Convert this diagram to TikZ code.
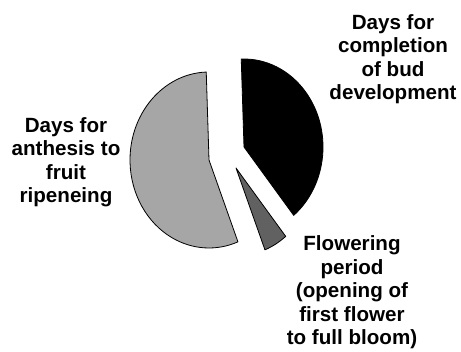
\documentclass[tikz,border=0pt]{standalone}
\usepackage{fontspec}
\setmainfont{Liberation Sans}
\usepackage{xcolor}
\usetikzlibrary{positioning, calc}

\definecolor{ripegray}{gray}{0.65}
\definecolor{flowergray}{gray}{0.38}

\begin{document}
\begin{tikzpicture}[
    x=1pt, y=1pt,
    slice/.style={draw=black, line width=0.8pt, line join=round},
    lbl/.style={align=center, anchor=base, inner sep=0pt,
        font=\fontsize{20.6}{23.6}\selectfont\bfseries}
]
    \useasboundingbox (0,0) rectangle (461,352);

    % Slice apexes
    \coordinate (budc) at (244,205);
    \coordinate (ripec) at (209,192);
    \coordinate (flowc) at (236,184);

    % Pie slices
    \draw[slice, fill=black] (budc) -- ($(budc)+(-51:79 and 88)$)
        arc[start angle=-51, end angle=92, x radius=79, y radius=88] -- cycle;
    \draw[slice, fill=ripegray] (ripec) -- ($(ripec)+(92:79 and 88)$)
        arc[start angle=92, end angle=291.5, x radius=79, y radius=88] -- cycle;
    \draw[slice, fill=flowergray] (flowc) -- ($(flowc)+(-68.5:79 and 88)$)
        arc[start angle=-68.5, end angle=-51, x radius=79, y radius=88] -- cycle;

    % Labels (anchored at the last line)
    \node[lbl] (budlabel) at (393,252) {Days for\\completion\\of bud\\development};
    \node[lbl] (ripelabel) at (66,149) {Days for\\anthesis to\\fruit\\ripeneing};
    \node[lbl] (flowlabel) at (352,7) {Flowering\\period\\(opening of\\first flower\\to full bloom)};
\end{tikzpicture}
\end{document}
